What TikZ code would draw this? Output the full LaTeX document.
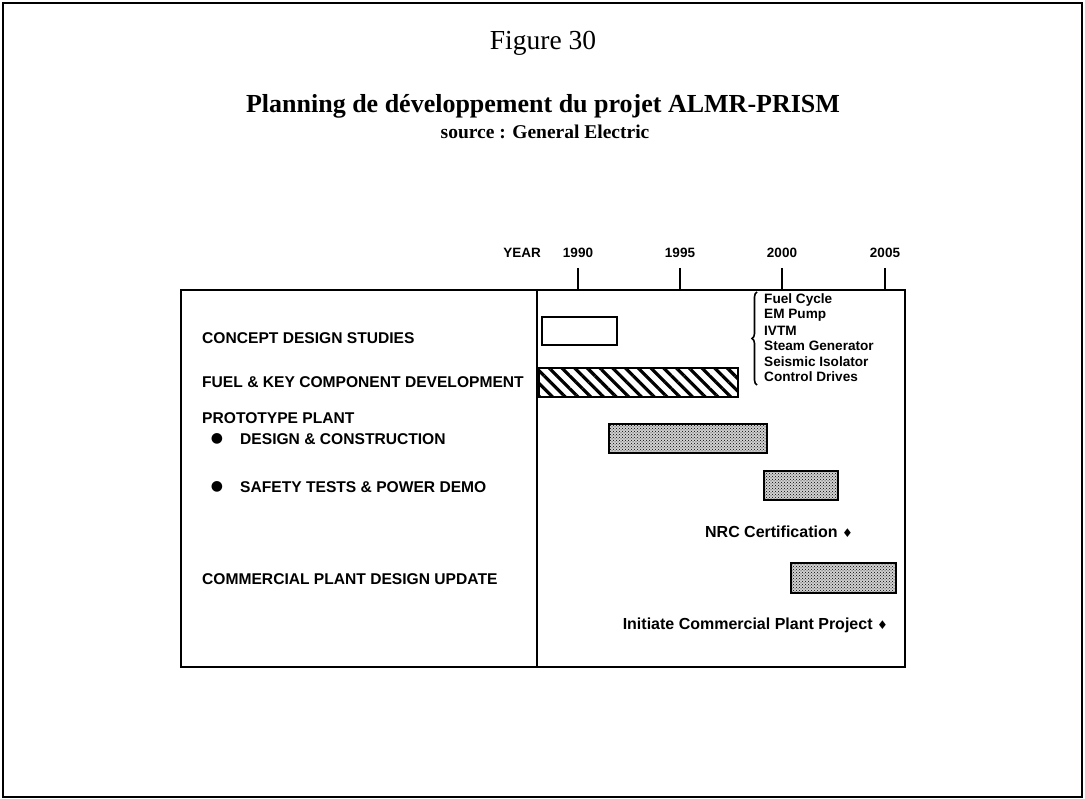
\documentclass[tikz,border=0pt]{standalone}
\usepackage{fontspec}
\setmainfont{Liberation Serif}
\newfontfamily\chartfont{Liberation Sans}
\newfontfamily\symfont{DejaVu Sans}
\usetikzlibrary{patterns,patterns.meta,decorations.pathreplacing}
\tikzset{
  frameline/.style={line width=1.8pt},
  boxline/.style={line width=1.8pt},
  rowlabel/.style={anchor=west,inner sep=0pt,font=\chartfont\bfseries\fontsize{15.6}{15.6}\selectfont},
  listlabel/.style={anchor=west,inner sep=0pt,font=\chartfont\bfseries\fontsize{13.6}{13.6}\selectfont},
  yearlabel/.style={anchor=base,inner sep=0pt,font=\chartfont\bfseries\fontsize{13.5}{13.5}\selectfont},
  milestone/.style={anchor=east,inner sep=0pt,font=\chartfont\bfseries\fontsize{16}{16}\selectfont},
  bulletmark/.style={inner sep=0pt,font=\symfont\fontsize{14}{14}\selectfont},
  plainbar/.style={draw,line width=1.8pt,fill=white},
  hatchbar/.style={draw,line width=1.8pt,pattern={Lines[angle=-45,distance=9pt,line width=3.2pt]}},
  dotbar/.style={draw,line width=1.8pt,preaction={fill=black!18},pattern=crosshatch dots},
  tickline/.style={line width=1.6pt}
}
\begin{document}
\begin{tikzpicture}[x=1pt,y=-1pt]
\useasboundingbox (0,0) rectangle (1085,799);
% outer frame
\draw[frameline] (3,797) -- (3,3) -- (1082,3) -- (1082,797) -- cycle;
% titles
\node[font=\fontsize{27.5}{27.5}\selectfont] (fig) at (543,43) {Figure 30};
\node[font=\bfseries\fontsize{26}{26}\selectfont] (title) at (543,106) {Planning de développement du projet ALMR-PRISM};
\node[font=\bfseries\fontsize{19.5}{19.5}\selectfont] (source) at (545,132) {source : General Electric};
% chart box
\coordinate (boxNW) at (181,290);
\coordinate (boxSE) at (905,667);
\draw[boxline] (boxNW) rectangle (boxSE);
\coordinate (divT) at (537,290);
\coordinate (divB) at (537,667);
\draw[boxline] (divT) -- (divB);
% year axis
\node[yearlabel] (yr) at (522,258) {YEAR};
\foreach \yr/\xx in {1990/578,1995/680,2000/782,2005/885}{
  \node[yearlabel] (y\yr) at (\xx,258) {\yr};
  \coordinate (t\yr) at (\xx,268);
  \coordinate (b\yr) at (\xx,290);
  \draw[tickline] (t\yr) -- (b\yr);
}
% row labels
\node[rowlabel] (l1) at (202,338) {CONCEPT DESIGN STUDIES};
\node[rowlabel] (l2) at (202,382) {FUEL \& KEY COMPONENT DEVELOPMENT};
\node[rowlabel] (l3) at (202,418) {PROTOTYPE PLANT};
\node[bulletmark] (d3) at (217,439) {●};
\node[rowlabel] (l3a) at (240,439) {DESIGN \& CONSTRUCTION};
\node[bulletmark] (d4) at (217,487) {●};
\node[rowlabel] (l4) at (240,487) {SAFETY TESTS \& POWER DEMO};
\node[rowlabel] (l5) at (202,579) {COMMERCIAL PLANT DESIGN UPDATE};
% bars
\draw[plainbar] (542,317) rectangle (617,345);
\draw[hatchbar] (539,368) rectangle (738,397);
\draw[dotbar] (609,424) rectangle (767,453);
\draw[dotbar] (764,471) rectangle (838,500);
\draw[dotbar] (791,563) rectangle (896,593);
% component list with brace
\coordinate (brB) at (757,385);
\coordinate (brT) at (757,292);
\draw[line width=1.6pt,decorate,decoration={brace,amplitude=5pt}] (brB) -- (brT);
\node[listlabel] (c1) at (764,300) {Fuel Cycle};
\node[listlabel] (c2) at (764,315.5) {EM Pump};
\node[listlabel] (c3) at (764,331) {IVTM};
\node[listlabel] (c4) at (764,346) {Steam Generator};
\node[listlabel] (c5) at (764,361.5) {Seismic Isolator};
\node[listlabel] (c6) at (764,377) {Control Drives};
% milestones
\node[milestone] (m1) at (853,532) {NRC Certification {\symfont\fontsize{12}{12}\selectfont ♦}};
\node[milestone] (m2) at (888,625) {Initiate Commercial Plant Project {\symfont\fontsize{12}{12}\selectfont ♦}};
\end{tikzpicture}
\end{document}
